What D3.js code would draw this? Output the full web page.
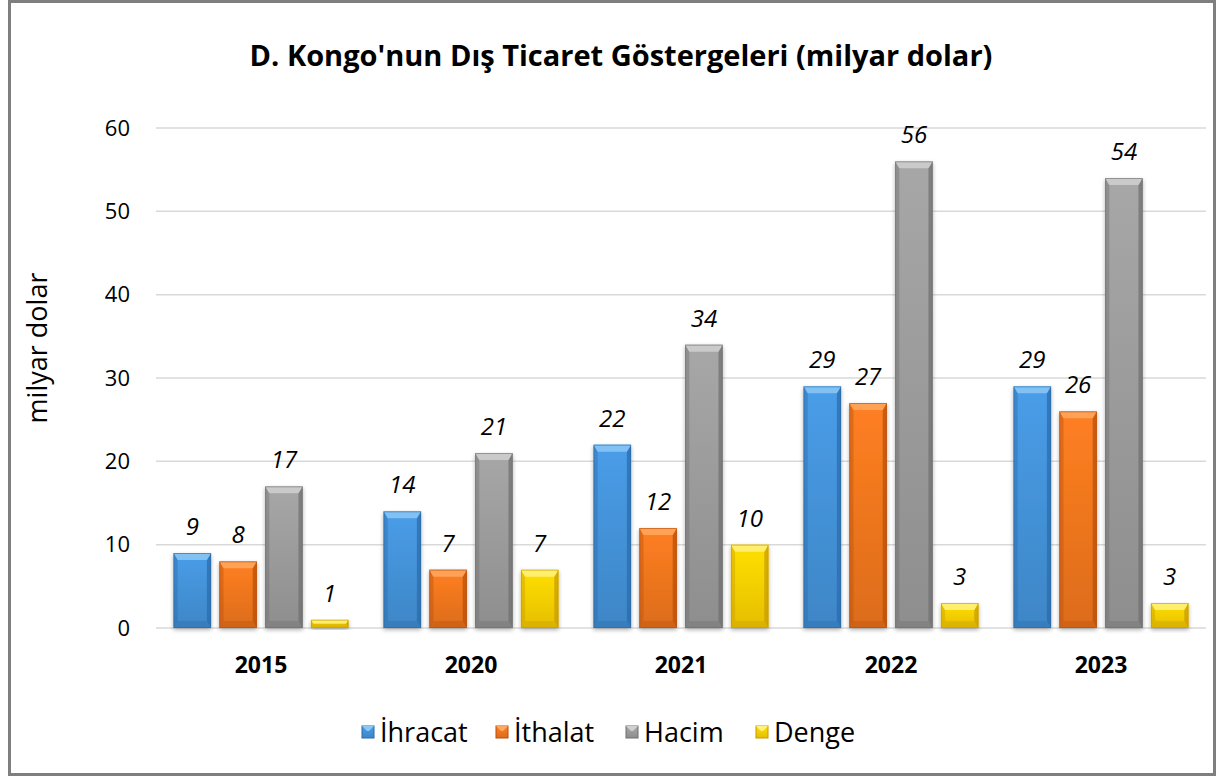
<!DOCTYPE html>
<html>
<head>
<meta charset="utf-8">
<script src="https://cdn.jsdelivr.net/npm/d3@7"></script>
<style>
  body { margin: 0; background: #fff; }
  text { font-family: "Open Sans", "Noto Sans", sans-serif; }
</style>
</head>
<body>
<div id="svg-wrapper"></div>
<script>
// chart data
const years = ["2015", "2020", "2021", "2022", "2023"];
const seriesNames = ["İhracat", "İthalat", "Hacim", "Denge"];
const ihracat = [9, 14, 22, 29, 29];
const ithalat = [8, 7, 12, 27, 26];
const hacim = [17, 21, 34, 56, 54];
const denge = [1, 7, 10, 3, 3];
const yTicks = [0, 10, 20, 30, 40, 50, 60];

const seriesValues = [ihracat, ithalat, hacim, denge];
// [light, mid, dark] per series
const palette = [
  ["#8cc8f4", "#4595dc", "#2a6aa8"],
  ["#ffa860", "#f5781f", "#b84f0c"],
  ["#d0d0d0", "#9e9e9e", "#6e6e6e"],
  ["#fff280", "#ffd400", "#c79a00"],
];

const width = 1219, height = 778;
const plotLeft = 156, plotRight = 1206, plotTop = 128, plotBottom = 628;

const svg = d3.select("#svg-wrapper").append("svg")
  .attr("width", width)
  .attr("height", height);

// frame
svg.append("rect")
  .attr("x", 9.5).attr("y", 1.5)
  .attr("width", 1205).attr("height", 773)
  .attr("fill", "#fff")
  .attr("stroke", "#7f7f7f")
  .attr("stroke-width", 3);

const defs = svg.append("defs");
palette.forEach((c, i) => {
  const g = defs.append("linearGradient")
    .attr("id", "grad" + i)
    .attr("x1", 0).attr("y1", 0).attr("x2", 0).attr("y2", 1);
  g.append("stop").attr("offset", "0%").attr("stop-color", d3.color(c[1]).brighter(0.15));
  g.append("stop").attr("offset", "100%").attr("stop-color", d3.color(c[1]).darker(0.3));
});
const shadow = defs.append("filter").attr("id", "shadow")
  .attr("x", "-20%").attr("y", "-10%").attr("width", "140%").attr("height", "130%");
shadow.append("feGaussianBlur").attr("in", "SourceAlpha").attr("stdDeviation", 2).attr("result", "blur");
shadow.append("feOffset").attr("in", "blur").attr("dx", 0).attr("dy", 2).attr("result", "off");
shadow.append("feComponentTransfer").attr("in", "off").attr("result", "soft")
  .append("feFuncA").attr("type", "linear").attr("slope", 0.3);
const merge = shadow.append("feMerge");
merge.append("feMergeNode").attr("in", "soft");
merge.append("feMergeNode").attr("in", "SourceGraphic");

// scales
const x0 = d3.scaleBand().domain(years).range([plotLeft, plotRight])
  .paddingInner(0.167).paddingOuter(0.0835);
const x1 = d3.scaleBand().domain(d3.range(4)).range([0, x0.bandwidth()])
  .paddingInner(0.18).paddingOuter(0);
const y = d3.scaleLinear().domain([0, 60]).range([plotBottom, plotTop]);

// gridlines
svg.append("g").selectAll("line").data(yTicks).join("line")
  .attr("x1", plotLeft).attr("x2", plotRight)
  .attr("y1", d => y(d)).attr("y2", d => y(d))
  .attr("stroke", "#d9d9d9").attr("stroke-width", 1.5);

// y axis labels
const yAxis = d3.axisLeft(y).tickValues(yTicks).tickSize(0).tickPadding(26);
const yg = svg.append("g").attr("transform", `translate(${plotLeft},0)`).call(yAxis);
yg.select(".domain").remove();
yg.selectAll("text").attr("font-size", 22).attr("fill", "#000")
  .style("font-family", "'Open Sans', sans-serif");

// x axis labels
const xAxis = d3.axisBottom(x0).tickSize(0).tickPadding(29);
const xg = svg.append("g").attr("transform", `translate(0,${plotBottom})`).call(xAxis);
xg.select(".domain").remove();
xg.selectAll("text").attr("font-size", 23).attr("font-weight", "bold").attr("fill", "#000")
  .style("font-family", "'Open Sans', sans-serif");

// bars
const flat = [];
years.forEach((yr, i) => {
  seriesValues.forEach((vals, s) => flat.push({ year: yr, s: s, v: vals[i] }));
});

const bars = svg.append("g").selectAll("g").data(flat).join("g")
  .attr("filter", "url(#shadow)");

const bx = d => x0(d.year) + x1(d.s);
const bw = x1.bandwidth();
const bev = d => Math.min(7, (y(0) - y(d.v)) / 2);

bars.append("rect")
  .attr("x", bx).attr("y", d => y(d.v))
  .attr("width", bw).attr("height", d => y(0) - y(d.v))
  .attr("fill", d => `url(#grad${d.s})`);
// left / right edges
bars.append("path").attr("fill", d => palette[d.s][2]).attr("opacity", 0.4)
  .attr("d", d => {
    const l = bx(d), t = y(d.v), b = y(0), e = bev(d);
    return `M${l},${t}L${l + e * 0.6},${t + e}L${l + e * 0.6},${b - e}L${l},${b}Z`;
  });
bars.append("path").attr("fill", d => palette[d.s][2]).attr("opacity", 0.7)
  .attr("d", d => {
    const r = bx(d) + bw, t = y(d.v), b = y(0), e = bev(d);
    return `M${r},${t}L${r - e * 0.6},${t + e}L${r - e * 0.6},${b - e}L${r},${b}Z`;
  });
// top bevel
bars.append("path").attr("fill", d => palette[d.s][0]).attr("opacity", 0.85)
  .attr("d", d => {
    const l = bx(d), r = l + bw, t = y(d.v), e = bev(d);
    return `M${l},${t}L${r},${t}L${r - e * 0.6},${t + e}L${l + e * 0.6},${t + e}Z`;
  });
// bottom bevel
bars.append("path").attr("fill", d => palette[d.s][2]).attr("opacity", 0.35)
  .attr("d", d => {
    const l = bx(d), r = l + bw, b = y(0), e = bev(d);
    return `M${l},${b}L${r},${b}L${r - e * 0.6},${b - e}L${l + e * 0.6},${b - e}Z`;
  });
bars.append("rect")
  .attr("x", d => bx(d) + 0.5).attr("y", d => y(d.v) + 0.5)
  .attr("width", bw - 1).attr("height", d => y(0) - y(d.v) - 1)
  .attr("fill", "none").attr("stroke", d => palette[d.s][2]).attr("stroke-opacity", 0.6);

// value labels
svg.append("g").selectAll("text").data(flat).join("text")
  .attr("x", d => bx(d) + bw / 2)
  .attr("y", d => y(d.v) - 18)
  .attr("text-anchor", "middle")
  .attr("font-size", 24).attr("font-style", "italic").attr("fill", "#000")
  .text(d => d.v);

// title
svg.append("text")
  .attr("x", 621).attr("y", 66)
  .attr("text-anchor", "middle")
  .attr("font-size", 29).attr("font-weight", "bold")
  .text("D. Kongo'nun Dış Ticaret Göstergeleri (milyar dolar)");

// y axis title
svg.append("text")
  .attr("transform", "translate(47,348) rotate(-90)")
  .attr("text-anchor", "middle")
  .attr("font-size", 27)
  .text("milyar dolar");

// legend
const legendX = [362, 496, 626, 756];
const lg = svg.append("g").selectAll("g").data(seriesNames).join("g")
  .attr("transform", (d, i) => `translate(${legendX[i]},726)`);
lg.append("rect").attr("width", 12).attr("height", 12)
  .attr("fill", (d, i) => `url(#grad${i})`)
  .attr("stroke", (d, i) => palette[i][2]).attr("stroke-width", 1);
lg.append("path").attr("fill", (d, i) => palette[i][0])
  .attr("d", "M0,0L12,0L7,5L5,5Z");
lg.append("text").attr("x", 18).attr("y", 16)
  .attr("font-size", 27).text(d => d);
</script>
</body>
</html>
